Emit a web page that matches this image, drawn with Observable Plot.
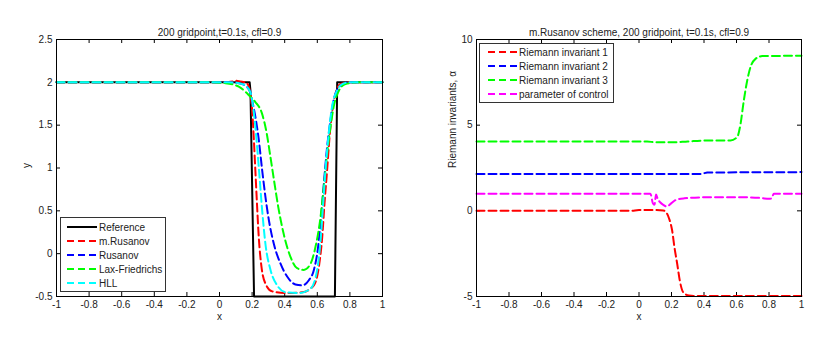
<!DOCTYPE html>
<html><head><meta charset="utf-8">
<script src="https://cdn.jsdelivr.net/npm/d3@7"></script>
<script src="https://cdn.jsdelivr.net/npm/@observablehq/plot@0.6"></script>
<style>
body{margin:0;background:#fff;font-family:"Liberation Sans",Arial,sans-serif;}
#wrap{position:relative;width:839px;height:338px;overflow:hidden;background:#fff;}
.panel{position:absolute;top:0;}
.legend{position:absolute;background:#fff;border:1px solid #333;box-sizing:border-box;}
.legend svg{display:block;}
</style></head><body><div id="wrap"></div>
<script>
// ---------- tick labels ----------
const xTicks = [-1, -0.8, -0.6, -0.4, -0.2, 0, 0.2, 0.4, 0.6, 0.8, 1];
const yTicksLeft = [-0.5, 0, 0.5, 1, 1.5, 2, 2.5];
const yTicksRight = [-5, 0, 5, 10];

// ---------- left chart: solution y ----------
const refX = [-1, 0.185, 0.19, 0.212, 0.708, 0.722, 1];
const refY = [2, 2, 1.9, -0.5, -0.5, 2, 2];

const mrusX = [-1, 0.0, 0.08, 0.1, 0.13, 0.16, 0.18, 0.19, 0.2, 0.21, 0.22, 0.23, 0.241, 0.258, 0.282, 0.323, 0.405, 0.507, 0.579, 0.609, 0.63, 0.644, 0.66, 0.675, 0.69, 0.712, 0.742, 0.8, 1];
const mrusY = [2, 2, 2.01, 2.02, 2.01, 2.0, 1.95, 1.85, 1.68, 1.36, 0.97, 0.58, 0.19, -0.16, -0.35, -0.44, -0.46, -0.45, -0.37, -0.16, 0.19, 0.58, 0.97, 1.36, 1.64, 1.87, 1.98, 2, 2];

const rusX = [-1, 0.05, 0.12, 0.16, 0.19, 0.2, 0.22, 0.241, 0.262, 0.282, 0.303, 0.334, 0.375, 0.416, 0.466, 0.507, 0.548, 0.579, 0.605, 0.625, 0.642, 0.66, 0.681, 0.70, 0.742, 0.8, 1];
const rusY = [2, 2, 1.99, 1.96, 1.88, 1.79, 1.60, 1.33, 0.97, 0.66, 0.39, 0.11, -0.12, -0.27, -0.36, -0.37, -0.31, -0.19, 0.08, 0.47, 0.86, 1.24, 1.56, 1.79, 1.96, 2, 2];

const lfX = [-1, -0.05, 0.037, 0.118, 0.19, 0.22, 0.26, 0.29, 0.31, 0.335, 0.36, 0.395, 0.436, 0.476, 0.517, 0.558, 0.589, 0.62, 0.64, 0.66, 0.681, 0.70, 0.732, 0.773, 0.85, 1];
const lfY = [2, 2, 1.99, 1.95, 1.83, 1.77, 1.64, 1.40, 1.16, 0.85, 0.55, 0.22, -0.04, -0.17, -0.19, -0.12, 0.08, 0.43, 0.78, 1.16, 1.48, 1.71, 1.90, 1.98, 2, 2];

const hllX = [-1, 0.05, 0.12, 0.16, 0.19, 0.2, 0.22, 0.241, 0.262, 0.282, 0.313, 0.354, 0.405, 0.487, 0.558, 0.599, 0.62, 0.636, 0.65, 0.67, 0.69, 0.72, 0.753, 0.8, 1];
const hllY = [2, 2, 1.99, 1.96, 1.88, 1.79, 1.48, 1.01, 0.5, 0.11, -0.19, -0.37, -0.45, -0.46, -0.41, -0.19, 0.15, 0.58, 0.97, 1.40, 1.71, 1.90, 1.98, 2, 2];

// ---------- right chart: Riemann invariants ----------
const ri1X = [-1, -0.05, 0.0, 0.1, 0.15, 0.173, 0.185, 0.204, 0.218, 0.235, 0.251, 0.272, 0.307, 0.35, 0.5, 0.8, 1];
const ri1Y = [0, 0, 0.05, 0.05, 0.02, -0.17, -0.45, -1.15, -2.12, -3.09, -4.07, -4.75, -4.94, -4.97, -4.97, -4.97, -4.97];

const ri2X = [-1, 0.38, 0.42, 1];
const ri2Y = [2.15, 2.15, 2.24, 2.26];

const ri3X = [-1, 0.05, 0.1, 0.2, 0.3, 0.4, 0.563, 0.604, 0.625, 0.645, 0.666, 0.686, 0.717, 0.758, 1];
const ri3Y = [4.05, 4.05, 4.0, 4.0, 4.05, 4.1, 4.11, 4.3, 5.08, 6.44, 7.61, 8.39, 8.87, 9.03, 9.05];

const ctrlX = [-1, 0.07, 0.085, 0.095, 0.105, 0.115, 0.13, 0.15, 0.17, 0.2, 0.23, 0.28, 0.4, 0.6, 0.75, 0.8, 0.815, 0.83, 1];
const ctrlY = [1.0, 1.0, 0.45, 0.35, 0.95, 0.7, 0.5, 0.35, 0.25, 0.45, 0.65, 0.73, 0.79, 0.8, 0.75, 0.7, 0.72, 1.0, 1.0];

// ---------- series definitions ----------
const leftSeries = [
  {name: "Reference", xs: refX, ys: refY, color: "#000000", dash: null, curve: "linear"},
  {name: "m.Rusanov", xs: mrusX, ys: mrusY, color: "#ff0000", dash: "8,4", curve: "monotone-x"},
  {name: "Rusanov", xs: rusX, ys: rusY, color: "#0000ff", dash: "8,4", curve: "monotone-x"},
  {name: "Lax-Friedrichs", xs: lfX, ys: lfY, color: "#00ff00", dash: "8,4", curve: "monotone-x"},
  {name: "HLL", xs: hllX, ys: hllY, color: "#00ffff", dash: "8,4", curve: "monotone-x"}
];
const rightSeries = [
  {name: "Riemann invariant 1", xs: ri1X, ys: ri1Y, color: "#ff0000", dash: "8,4", curve: "monotone-x"},
  {name: "Riemann invariant 2", xs: ri2X, ys: ri2Y, color: "#0000ff", dash: "8,4", curve: "linear"},
  {name: "Riemann invariant 3", xs: ri3X, ys: ri3Y, color: "#00ff00", dash: "8,4", curve: "monotone-x"},
  {name: "parameter of control", xs: ctrlX, ys: ctrlY, color: "#ff00ff", dash: "8,4", curve: "monotone-x"}
];

const fmt = d => String(Math.round(d * 10) / 10);

function panel({width, series, yDomain, yTicks, title, yLabel, yLabelDx}) {
  const mL = 56, mR = 38, mT = 39, mB = 42, H = 338;
  const fw = width - mL - mR, fh = H - mT - mB;
  const marks = [];
  // inward ticks on all four sides
  marks.push(Plot.tickX(xTicks, {x: d => d, insetTop: fh - 4, stroke: "#000"}));
  marks.push(Plot.tickX(xTicks, {x: d => d, insetBottom: fh - 4, stroke: "#000"}));
  marks.push(Plot.tickY(yTicks, {y: d => d, insetRight: fw - 4, stroke: "#000"}));
  marks.push(Plot.tickY(yTicks, {y: d => d, insetLeft: fw - 4, stroke: "#000"}));
  for (const s of series) {
    const data = s.xs.map((x, i) => ({x, y: s.ys[i]}));
    marks.push(Plot.line(data, {
      x: "x", y: "y", stroke: s.color, strokeWidth: 2,
      strokeDasharray: s.dash || undefined, curve: s.curve
    }));
  }
  marks.push(Plot.frame({stroke: "#000", strokeWidth: 1}));
  marks.push(Plot.text([title], {frameAnchor: "top", dy: -11, fill: "#222", fontSize: 10}));
  marks.push(Plot.text(["x"], {frameAnchor: "bottom", dy: 23, fill: "#222", fontSize: 10}));
  marks.push(Plot.text([yLabel], {frameAnchor: "left", dx: yLabelDx, rotate: -90, fill: "#222", fontSize: 10}));
  return Plot.plot({
    width, height: H,
    marginLeft: mL, marginRight: mR, marginTop: mT, marginBottom: mB,
    style: {fontSize: "10px", fontFamily: "'Liberation Sans', Arial, sans-serif", color: "#222", background: "#fff"},
    x: {domain: [-1, 1], ticks: xTicks, tickFormat: fmt, tickSize: 0, tickPadding: 4, label: null},
    y: {domain: yDomain, ticks: yTicks, tickFormat: fmt, tickSize: 0, tickPadding: 4, label: null},
    marks
  });
}

function legend({left, top, width, height, series, rowTop, lineX0, lineX1, textX}) {
  const div = document.createElement("div");
  div.className = "legend";
  Object.assign(div.style, {left: left + "px", top: top + "px", width: width + "px", height: height + "px"});
  const svg = d3.create("svg").attr("width", width - 2).attr("height", height - 2);
  series.forEach((s, i) => {
    const y = rowTop + i * 14;
    svg.append("line").attr("x1", lineX0).attr("x2", lineX1).attr("y1", y).attr("y2", y)
      .attr("stroke", s.color).attr("stroke-width", 2)
      .attr("stroke-dasharray", s.dash ? "7,4" : null);
    svg.append("text").attr("x", textX).attr("y", y).attr("dy", "0.35em")
      .attr("font-size", 10).attr("fill", "#222")
      .attr("font-family", "'Liberation Sans', Arial, sans-serif").text(s.name);
  });
  div.appendChild(svg.node());
  return div;
}

const wrap = document.getElementById("wrap");

const p1 = panel({width: 420, series: leftSeries, yDomain: [-0.5, 2.5], yTicks: yTicksLeft,
  title: "200 gridpoint,t=0.1s, cfl=0.9", yLabel: "y", yLabelDx: -30});
p1.classList.add("panel"); p1.style.left = "0px";
wrap.appendChild(p1);

const p2 = panel({width: 419, series: rightSeries, yDomain: [-5, 10], yTicks: yTicksRight,
  title: "m.Rusanov scheme, 200 gridpoint, t=0.1s, cfl=0.9", yLabel: "Riemann invariants, α", yLabelDx: -24});
p2.classList.add("panel"); p2.style.left = "420px";
wrap.appendChild(p2);

wrap.appendChild(legend({left: 60, top: 217, width: 106, height: 75, series: leftSeries,
  rowTop: 9, lineX0: 6, lineX1: 36, textX: 38}));
wrap.appendChild(legend({left: 479, top: 43, width: 135, height: 60, series: rightSeries,
  rowTop: 8, lineX0: 8, lineX1: 37, textX: 39}));
</script>
</body></html>
